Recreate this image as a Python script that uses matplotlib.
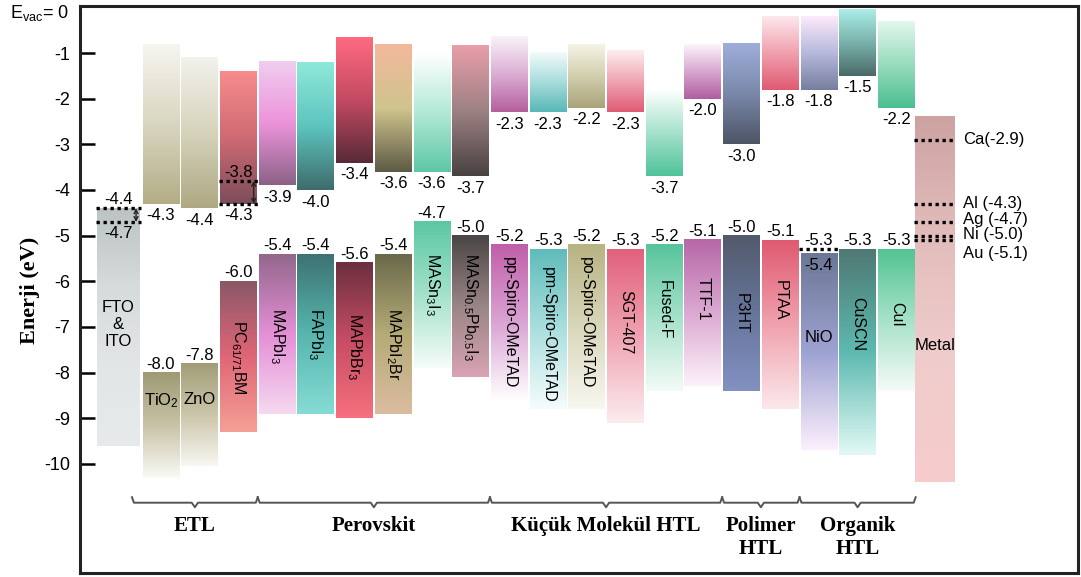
import numpy as np
import matplotlib.pyplot as plt
from matplotlib.colors import to_rgb

plt.rcParams['font.family'] = 'Liberation Sans'
plt.rcParams['mathtext.fontset'] = 'custom'
plt.rcParams['mathtext.rm'] = 'Liberation Sans'
plt.rcParams['mathtext.it'] = 'Liberation Sans:italic'
plt.rcParams['axes.unicode_minus'] = False

# materials, left to right (FTO/ITO and metal are single work-function blocks)
names = ['FTO\n&\nITO', 'TiO$_2$', 'ZnO', 'PC$_{61/71}$BM', 'MAPbI$_3$', 'FAPbI$_3$',
         'MAPbBr$_3$', 'MAPbI$_2$Br', 'MASn$_3$I$_3$', 'MASn$_{0.5}$Pb$_{0.5}$I$_3$',
         'pp-Spiro-OMeTAD', 'pm-Spiro-OMeTAD', 'po-Spiro-OMeTAD', 'SGT-407', 'Fused-F',
         'TTF-1', 'P3HT', 'PTAA', 'NiO', 'CuSCN', 'CuI', 'Metal']
nan = np.nan
# upper block: top edge -> LUMO / CB
cb_top = [nan, -0.8, -1.1, -1.4, -1.2, -1.2, -0.65, -0.8, -1.0, -0.85, -0.65, -1.0,
          -0.8, -0.95, -1.8, -0.8, -0.8, -0.2, -0.2, -0.05, -0.3, nan]
lumo = [nan, -4.3, -4.4, -4.3, -3.9, -4.0, -3.4, -3.6, -3.6, -3.7, -2.3, -2.3,
        -2.2, -2.3, -3.7, -2.0, -3.0, -1.8, -1.8, -1.5, -2.2, nan]
# lower block: HOMO / VB -> bottom edge
homo = [nan, -8.0, -7.8, -6.0, -5.4, -5.4, -5.6, -5.4, -4.7, -5.0, -5.2, -5.3,
        -5.2, -5.3, -5.2, -5.1, -5.0, -5.1, -5.4, -5.3, -5.3, nan]
vb_bottom = [nan, -10.3, -10.05, -9.3, -8.9, -8.9, -9.0, -8.9, -7.9, -8.1, -8.6, -8.8,
             -8.8, -9.1, -8.4, -8.3, -8.4, -8.8, -9.7, -9.8, -8.4, nan]

fto_levels = [-4.4, -4.7]
fto_bottom = -9.6
pcbm_lumo2 = -3.8
nio_homo2 = -5.3
metal_top, metal_bottom = -2.4, -10.4
metal_names = ['Ca', 'Al ', 'Ag ', 'Ni ', 'Au ']
metal_wf = [-2.9, -4.3, -4.7, -5.0, -5.1]

group_names = ['ETL', 'Perovskit', 'Küçük Molekül HTL', 'Polimer\nHTL', 'Organik\nHTL']
group_first = [1, 4, 10, 16, 18]
group_last = [3, 9, 15, 17, 20]

# gradient stops (top -> bottom) for each block
upper_colors = [
    None,
    ['#f6f5f0', '#d9d6c0', '#b3ad86'],
    ['#f3f2ec', '#d6d3bc', '#aea882'],
    ['#f78c8c', '#cf6a74', '#7c4d5a'],
    ['#f1cdf0', '#ec93da', '#8b6286'],
    ['#8fe9da', '#5dc4be', '#3e6c6b'],
    ['#ff6b80', '#c24a62', '#582a37'],
    ['#f4b89c', '#cfc58d', '#5d5a45'],
    ['#ffffff', '#b2e9d6', '#5cc7a5'],
    ['#ea9eaa', '#9d8184', '#484141'],
    ['#faf3fa', '#dcaed4', '#b45f9d'],
    ['#f2fbfb', '#a8dcdc', '#58b7b7'],
    ['#f5f4e6', '#d2cfae', '#a8a378'],
    ['#fdeef0', '#f0a5b3', '#df5b74'],
    ['#ffffff', '#a6e2cb', '#4fc399'],
    ['#fcf4fb', '#d8a6cf', '#af5e9f'],
    ['#9eaed9', '#7a88aa', '#4d5465'],
    ['#fde8ed', '#f0a0ae', '#df5a70'],
    ['#feeafb', '#b6b8dc', '#767e9e'],
    ['#abeee6', '#79b2ab', '#4a6a67'],
    ['#e2f7ed', '#98dcbd', '#4bbf8f'],
    None,
]
lower_colors = [
    None,
    ['#9f9a74', '#c8c3a6', '#fafaf6'],
    ['#a29d78', '#cbc6aa', '#f8f7f2'],
    ['#8a5867', '#e06676', '#f5a096'],
    ['#93678c', '#e48fd6', '#f6d8f0'],
    ['#3d7273', '#57b6ae', '#86dcd5'],
    ['#6b2f40', '#c64d64', '#f7707f'],
    ['#6b694b', '#b5ab77', '#dbbca0'],
    ['#5bc7a3', '#a3e2ca', '#f6fcf9'],
    ['#4b4545', '#9a8586', '#d9a4b3'],
    ['#c05fa9', '#daa3d3', '#ffffff'],
    ['#5fbcbb', '#aadfde', '#f6fcfc'],
    ['#b8b383', '#d9d7bb', '#f8f7f0'],
    ['#e1607a', '#f0a3b2', '#fcecef'],
    ['#57c49b', '#a6e2cb', '#f3fbf7'],
    ['#b767a7', '#dba9d2', '#fcf1f9'],
    ['#525a6b', '#66759a', '#8391c2'],
    ['#df5a70', '#f0a2ae', '#fce8ec'],
    ['#6b7795', '#9ea2d2', '#fcf0fd'],
    ['#4f7873', '#5dbab0', '#e3f9f5'],
    ['#53c393', '#a6e2c8', '#f5fbf8'],
    None,
]
fto_colors = ['#bcc4c3', '#d6dbdb', '#e3e6e7', '#e7eaea']
metal_colors = ['#cda3a2', '#e3bdbc', '#efcdcc', '#f7cbcb']

# where the material name sits (top of rotated text, centre of horizontal text)
name_y = [-6.95, -8.62, -8.6, -6.85, -6.58, -6.58, -6.7, -6.58, -5.38, -5.38, -5.47,
          -5.69, -5.47, -6.19, -5.97, -5.9, -6.26, -5.97, -7.24, -6.34, -6.45, -7.4]
horizontal = {0, 1, 2, 18, 21}

fig = plt.figure(figsize=(10.81, 5.77), dpi=100)
ax = fig.add_axes([80 / 1081, 1 - 573 / 577, 998 / 1081, 567 / 577])

n = len(names)
xs = np.arange(n, dtype=float)
widths = np.full(n, 0.95)
xs[0] -= 0.1
widths[0] = 1.11
widths[21] = 1.03


def grad_box(x0, x1, ytop, ybot, stops):
    cols = np.array([to_rgb(c) for c in stops])
    t = np.linspace(0, 1, 256)
    pos = np.linspace(0, 1, len(cols))
    img = np.stack([np.interp(t, pos, cols[:, k]) for k in range(3)], axis=-1)[:, None, :]
    ax.imshow(img, extent=(x0, x1, ybot, ytop), origin='upper', aspect='auto',
              interpolation='bilinear', zorder=1)


def dots(x0, x1, y):
    ax.plot([x0 - 0.03, x1 + 0.03], [y, y], color='black', lw=2.4,
            linestyle=(0, (1, 1.1)), zorder=3, solid_capstyle='butt')


def arrow(x, y0, y1):
    ax.annotate('', xy=(x, y1), xytext=(x, y0),
                arrowprops=dict(arrowstyle='<->', color='#222222', lw=1.0,
                                mutation_scale=7, shrinkA=0, shrinkB=0), zorder=4)


vfs = 12
for i in range(n):
    x0 = xs[i] - widths[i] / 2
    x1 = xs[i] + widths[i] / 2
    if i == 0:
        grad_box(x0, x1, fto_levels[0], fto_bottom, fto_colors)
        for lv in fto_levels:
            dots(x0, x1, lv)
        arrow(x1 - 0.1, fto_levels[0], fto_levels[1])
        ax.text(xs[i], fto_levels[0] + 0.02, f'{fto_levels[0]:.1f}', ha='center', va='bottom', fontsize=vfs)
        ax.text(xs[i], fto_levels[1] - 0.1, f'{fto_levels[1]:.1f}', ha='center', va='top', fontsize=vfs)
    elif i == 21:
        grad_box(x0, x1, metal_top, metal_bottom, metal_colors)
        nudge = [0, 0, 0.06, 0.03, -0.3]
        for nm, wf, dy in zip(metal_names, metal_wf, nudge):
            dots(x0, x1, wf)
            ax.text(x1 + 0.2, wf + dy, f'{nm}({wf:.1f})', ha='left', va='center', fontsize=vfs)
    else:
        grad_box(x0, x1, cb_top[i], lumo[i], upper_colors[i])
        grad_box(x0, x1, homo[i], vb_bottom[i], lower_colors[i])
        ax.text(xs[i], lumo[i] - 0.1, f'{lumo[i]:.1f}', ha='center', va='top', fontsize=vfs)
        if i == 18:
            dots(x0, x1, nio_homo2)
            ax.text(xs[i], nio_homo2 + 0.02, f'{nio_homo2:.1f}', ha='center', va='bottom', fontsize=vfs)
            ax.text(xs[i], homo[i] - 0.08, f'{homo[i]:.1f}', ha='center', va='top', fontsize=vfs)
        else:
            ax.text(xs[i], homo[i] + 0.02, f'{homo[i]:.1f}', ha='center', va='bottom', fontsize=vfs)
        if i == 3:
            dots(x0, x1, pcbm_lumo2)
            dots(x0, x1, lumo[i])
            arrow(x1 - 0.08, pcbm_lumo2, lumo[i])
            ax.text(xs[i], pcbm_lumo2 + 0.02, f'{pcbm_lumo2:.1f}', ha='center', va='bottom', fontsize=vfs)

    if i in horizontal:
        ax.text(xs[i], name_y[i], names[i], ha='center', va='center', fontsize=12,
                linespacing=1.15, zorder=5)
    else:
        ax.text(xs[i], name_y[i], names[i], ha='center', va='top', rotation=270,
                fontsize=11.5, zorder=5)

# group braces and captions
by = -10.85
for gname, g0, g1 in zip(group_names, group_first, group_last):
    a = g0 - 0.5 - (0.25 if g0 == 1 else 0)
    b = g1 + 0.5
    c = (a + b) / 2
    bx = [a, a + 0.05, c - 0.08, c, c + 0.08, b - 0.05, b]
    byy = [by + 0.12, by, by, by - 0.1, by, by, by + 0.12]
    ax.plot(bx, byy, color='#555555', lw=1.4, zorder=3)
    ax.text(c, -11.15, gname, ha='center', va='top', fontsize=15, fontweight='bold',
            family='Liberation Serif', linespacing=1.2)

ax.set_xlim(-1.093, 24.695)
ax.set_ylim(-12.39, 0.03)
ax.set_yticks(np.arange(-10, 0))
ax.set_yticklabels([str(v) for v in range(-10, 0)])
ax.set_xticks([])
ax.tick_params(axis='y', direction='in', length=10.5, width=1.8, labelsize=13, pad=7)
for sp in ax.spines.values():
    sp.set_linewidth(2.2)
    sp.set_color('#222222')

fig.text(10 / 1081, 1 - 13 / 577, 'E$_{\\rm vac}$= 0', ha='left', va='center', fontsize=13)
fig.text(30 / 1081, 1 - 290 / 577, 'Enerji (eV)', rotation=90, ha='center', va='center',
         fontsize=16, fontweight='bold', family='Liberation Serif')

fig.savefig('out.png', dpi=100)
